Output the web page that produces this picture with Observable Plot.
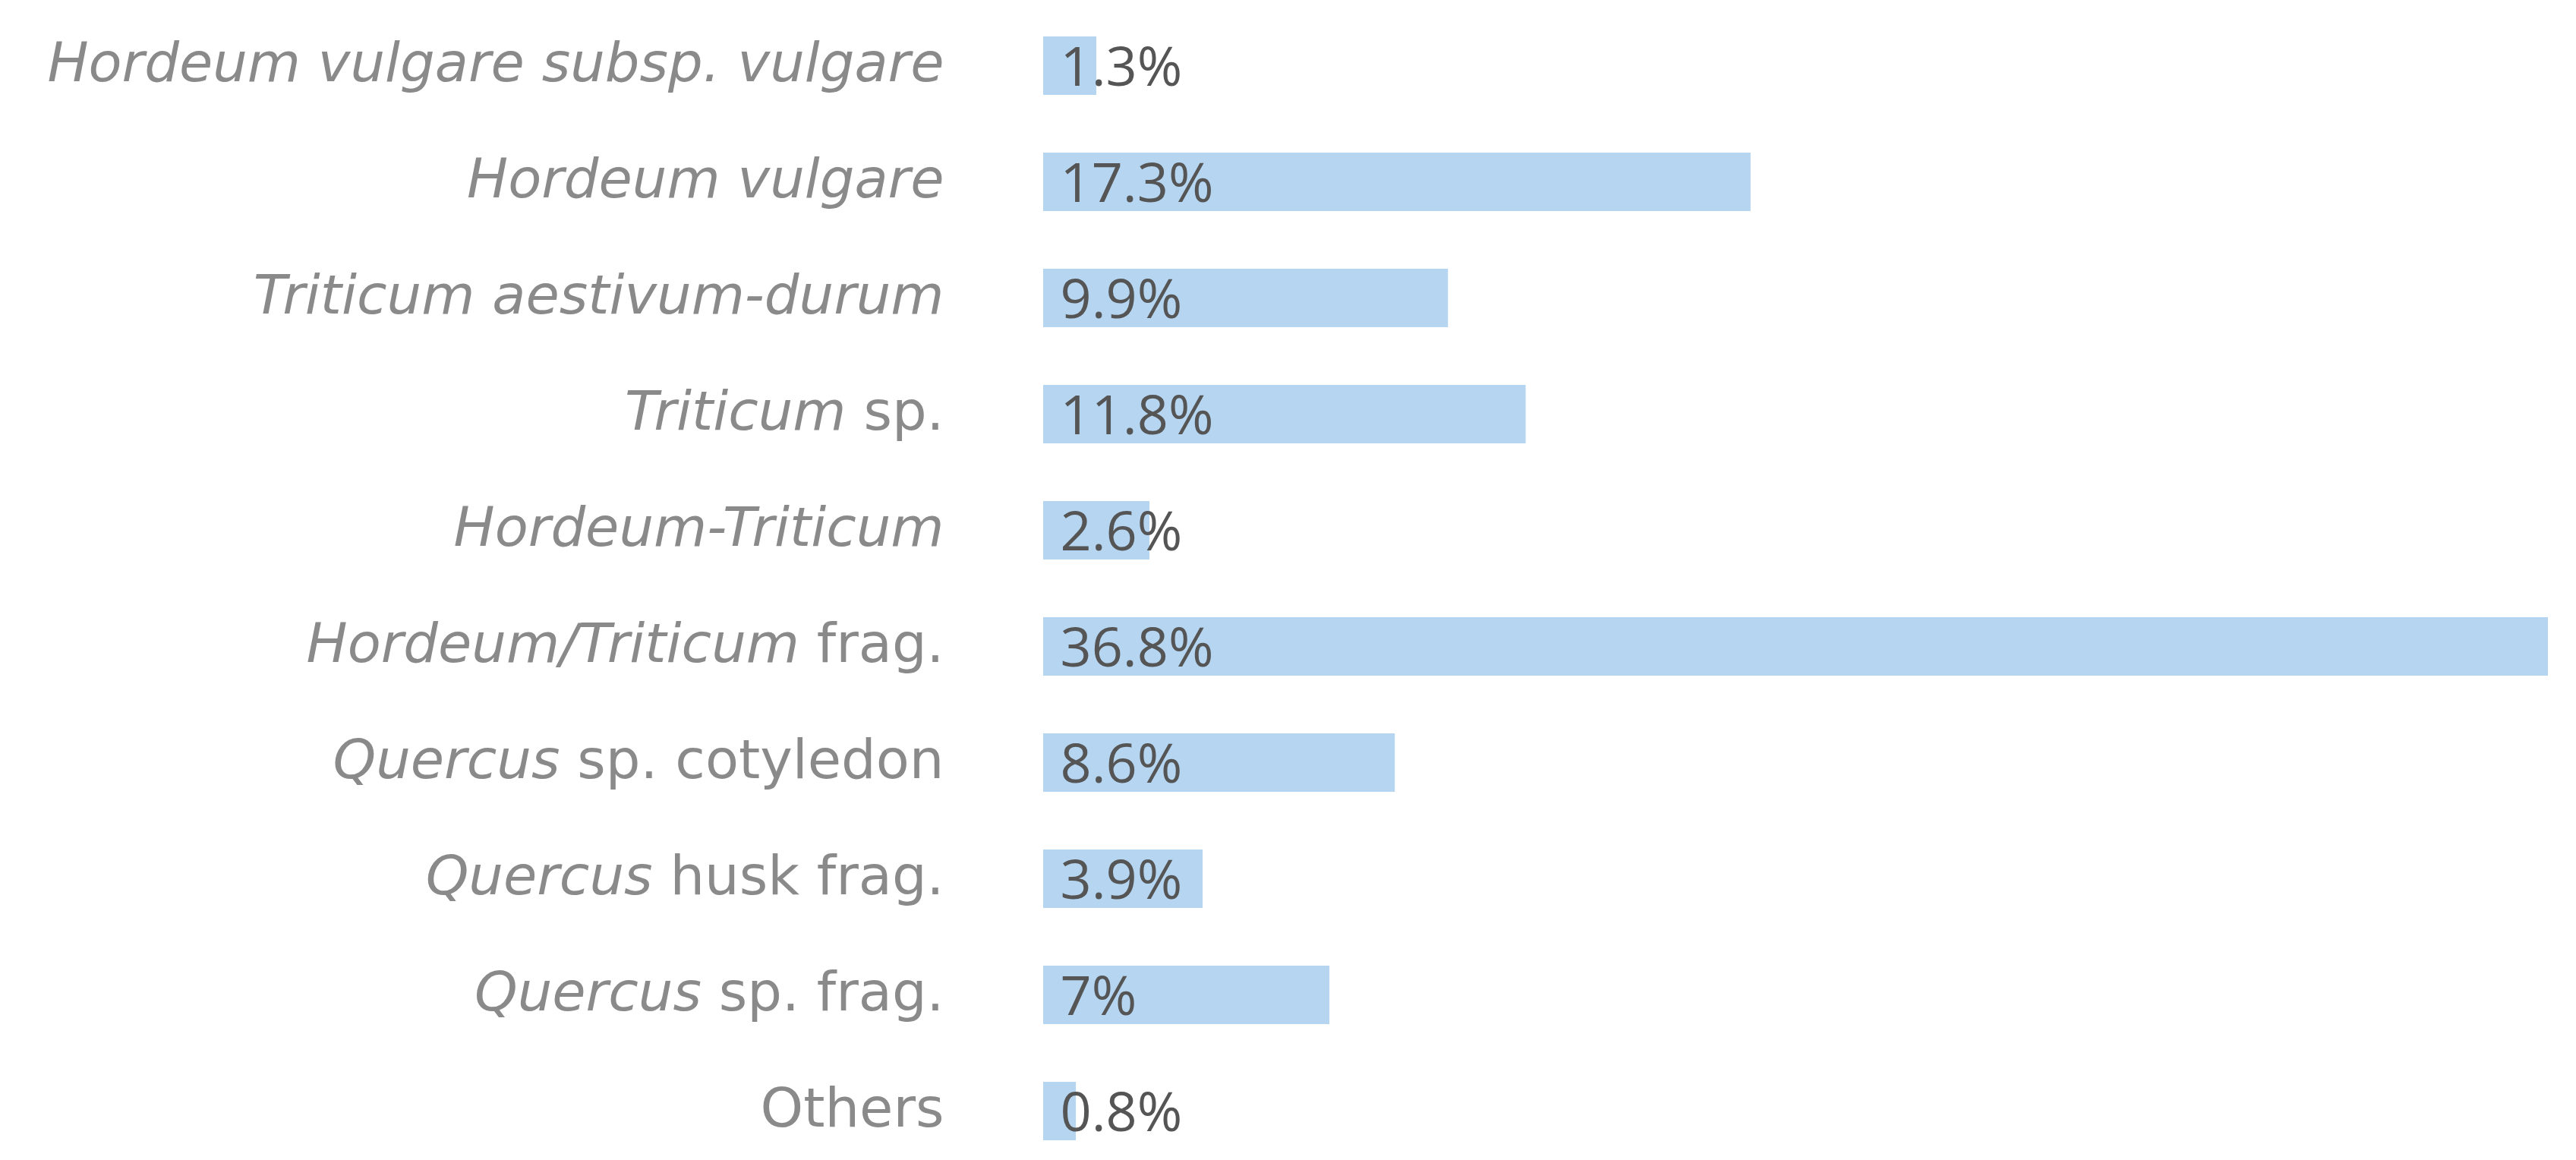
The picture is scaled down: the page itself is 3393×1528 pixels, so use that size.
<!DOCTYPE html>
<html>
<head>
<meta charset="utf-8">
<script src="https://cdn.jsdelivr.net/npm/d3@7"></script>
<script src="https://cdn.jsdelivr.net/npm/@observablehq/plot@0.6"></script>
<style>
  html, body { margin: 0; padding: 0; background: #fff; }
  g[aria-label="y-axis tick label"] text { font-family: "DejaVu Sans", sans-serif; white-space: pre; }
</style>
</head>
<body>
<div id="chart"></div>
<script>
// Category labels; parts wrapped in _..._ are set in italics
const labelMarkup = [
  "_Hordeum vulgare subsp. vulgare_",
  "_Hordeum vulgare_",
  "_Triticum aestivum-durum_",
  "_Triticum_ sp.",
  "_Hordeum-Triticum_",
  "_Hordeum/Triticum_ frag.",
  "_Quercus_ sp. cotyledon",
  "_Quercus_ husk frag.",
  "_Quercus_ sp. frag.",
  "Others"
];
const categories = labelMarkup.map(s => s.replace(/_/g, ""));
const values = [1.3, 17.3, 9.9, 11.8, 2.6, 36.8, 8.6, 3.9, 7.0, 0.8];
const valueLabels = ["1.3%", "17.3%", "9.9%", "11.8%", "2.6%", "36.8%", "8.6%", "3.9%", "7%", "0.8%"];

const data = categories.map((c, i) => ({category: c, value: values[i], label: valueLabels[i]}));
const markup = new Map(categories.map((c, i) => [c, labelMarkup[i]]));

const chart = Plot.plot({
  width: 3393,
  height: 1528,
  marginLeft: 1374,
  marginRight: 37,
  marginTop: 47,
  marginBottom: 26,
  style: {background: "white"},
  x: {domain: [0, d3.max(values)], axis: null},
  y: {domain: categories, paddingInner: 0.5, paddingOuter: 0, label: null, axis: null},
  marks: [
    Plot.barX(data, {x: "value", y: "category", fill: "#b5d5f0"}),
    Plot.text(data, {
      x: 0, y: "category", text: "label", textAnchor: "start", dx: 22, dy: 3,
      fontSize: 72, fill: "#555", fontFamily: "Open Sans"
    }),
    Plot.axisY({
      tickSize: 0, tickPadding: 131, fontSize: 72, color: "#8a8a8a", dy: -3,
      tickFormat: d => d, label: null
    })
  ]
});

document.getElementById("chart").appendChild(chart);

chart.querySelectorAll('g[aria-label="y-axis tick label"] text').forEach(t => {
  const cat = t.textContent;
  const m = markup.get(cat);
  if (!m) return;
  t.textContent = "";
  m.split("_").forEach((part, i) => {
    if (!part) return;
    const ts = document.createElementNS("http://www.w3.org/2000/svg", "tspan");
    ts.textContent = part;
    if (i % 2 === 1) ts.setAttribute("font-style", "italic");
    t.appendChild(ts);
  });
});
</script>
</body>
</html>
